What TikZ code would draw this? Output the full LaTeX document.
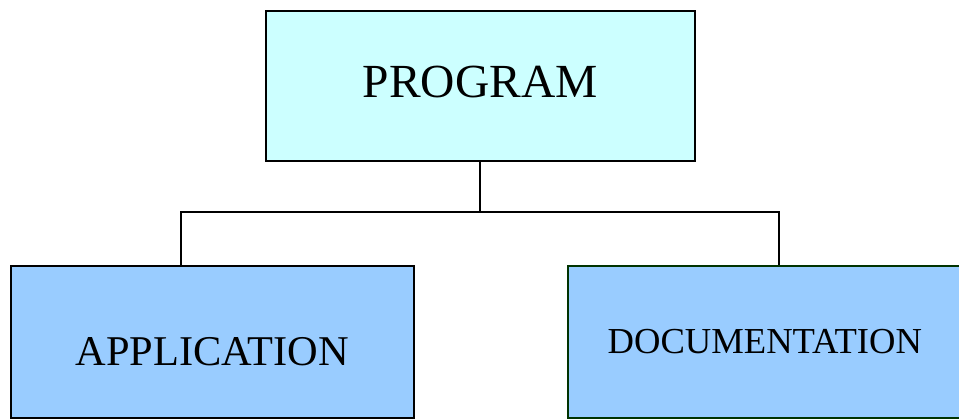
\documentclass[tikz,border=0pt]{standalone}
\usepackage{fontspec}
\setmainfont{Liberation Serif}
\begin{document}
\begin{tikzpicture}[x=1pt,y=-1pt,
  box/.style={draw=black, line width=1.6pt, rectangle, inner sep=0pt, anchor=north west},
  lbl/.style={anchor=base, inner sep=0pt, text=black},
  conn/.style={draw=black, line width=1.6pt}]
\useasboundingbox (0,0) rectangle (959,418);
\definecolor{topfill}{HTML}{CCFFFF}
\definecolor{botfill}{HTML}{99CCFF}
\definecolor{darkgreen}{HTML}{003300}
% boxes
\node[box, fill=topfill, minimum width=429pt, minimum height=150pt] (prog) at (265,10) {};
\node[box, fill=botfill, minimum width=403pt, minimum height=152pt] (app) at (10,265) {};
\node[box, fill=botfill, draw=darkgreen, minimum width=394pt, minimum height=152pt] (doc) at (567,265) {};
% labels
\node[lbl, font=\fontsize{47.5}{50}\selectfont] at ([yshift=-12pt]prog.center) {PROGRAM};
\node[lbl, font=\fontsize{42.4}{45}\selectfont] at ([yshift=-24pt]app.center) {APPLICATION};
\node[lbl, font=\fontsize{36.6}{40}\selectfont] at ([yshift=-12pt]doc.center) {DOCUMENTATION};
% connectors
\coordinate (mid) at (480,212);
\coordinate (appTop) at (181,265);
\coordinate (docTop) at (779,265);
\draw[conn] (mid |- prog.south) -- (mid);
\draw[conn] (appTop) |- (mid) -| (docTop);
\end{tikzpicture}
\end{document}
